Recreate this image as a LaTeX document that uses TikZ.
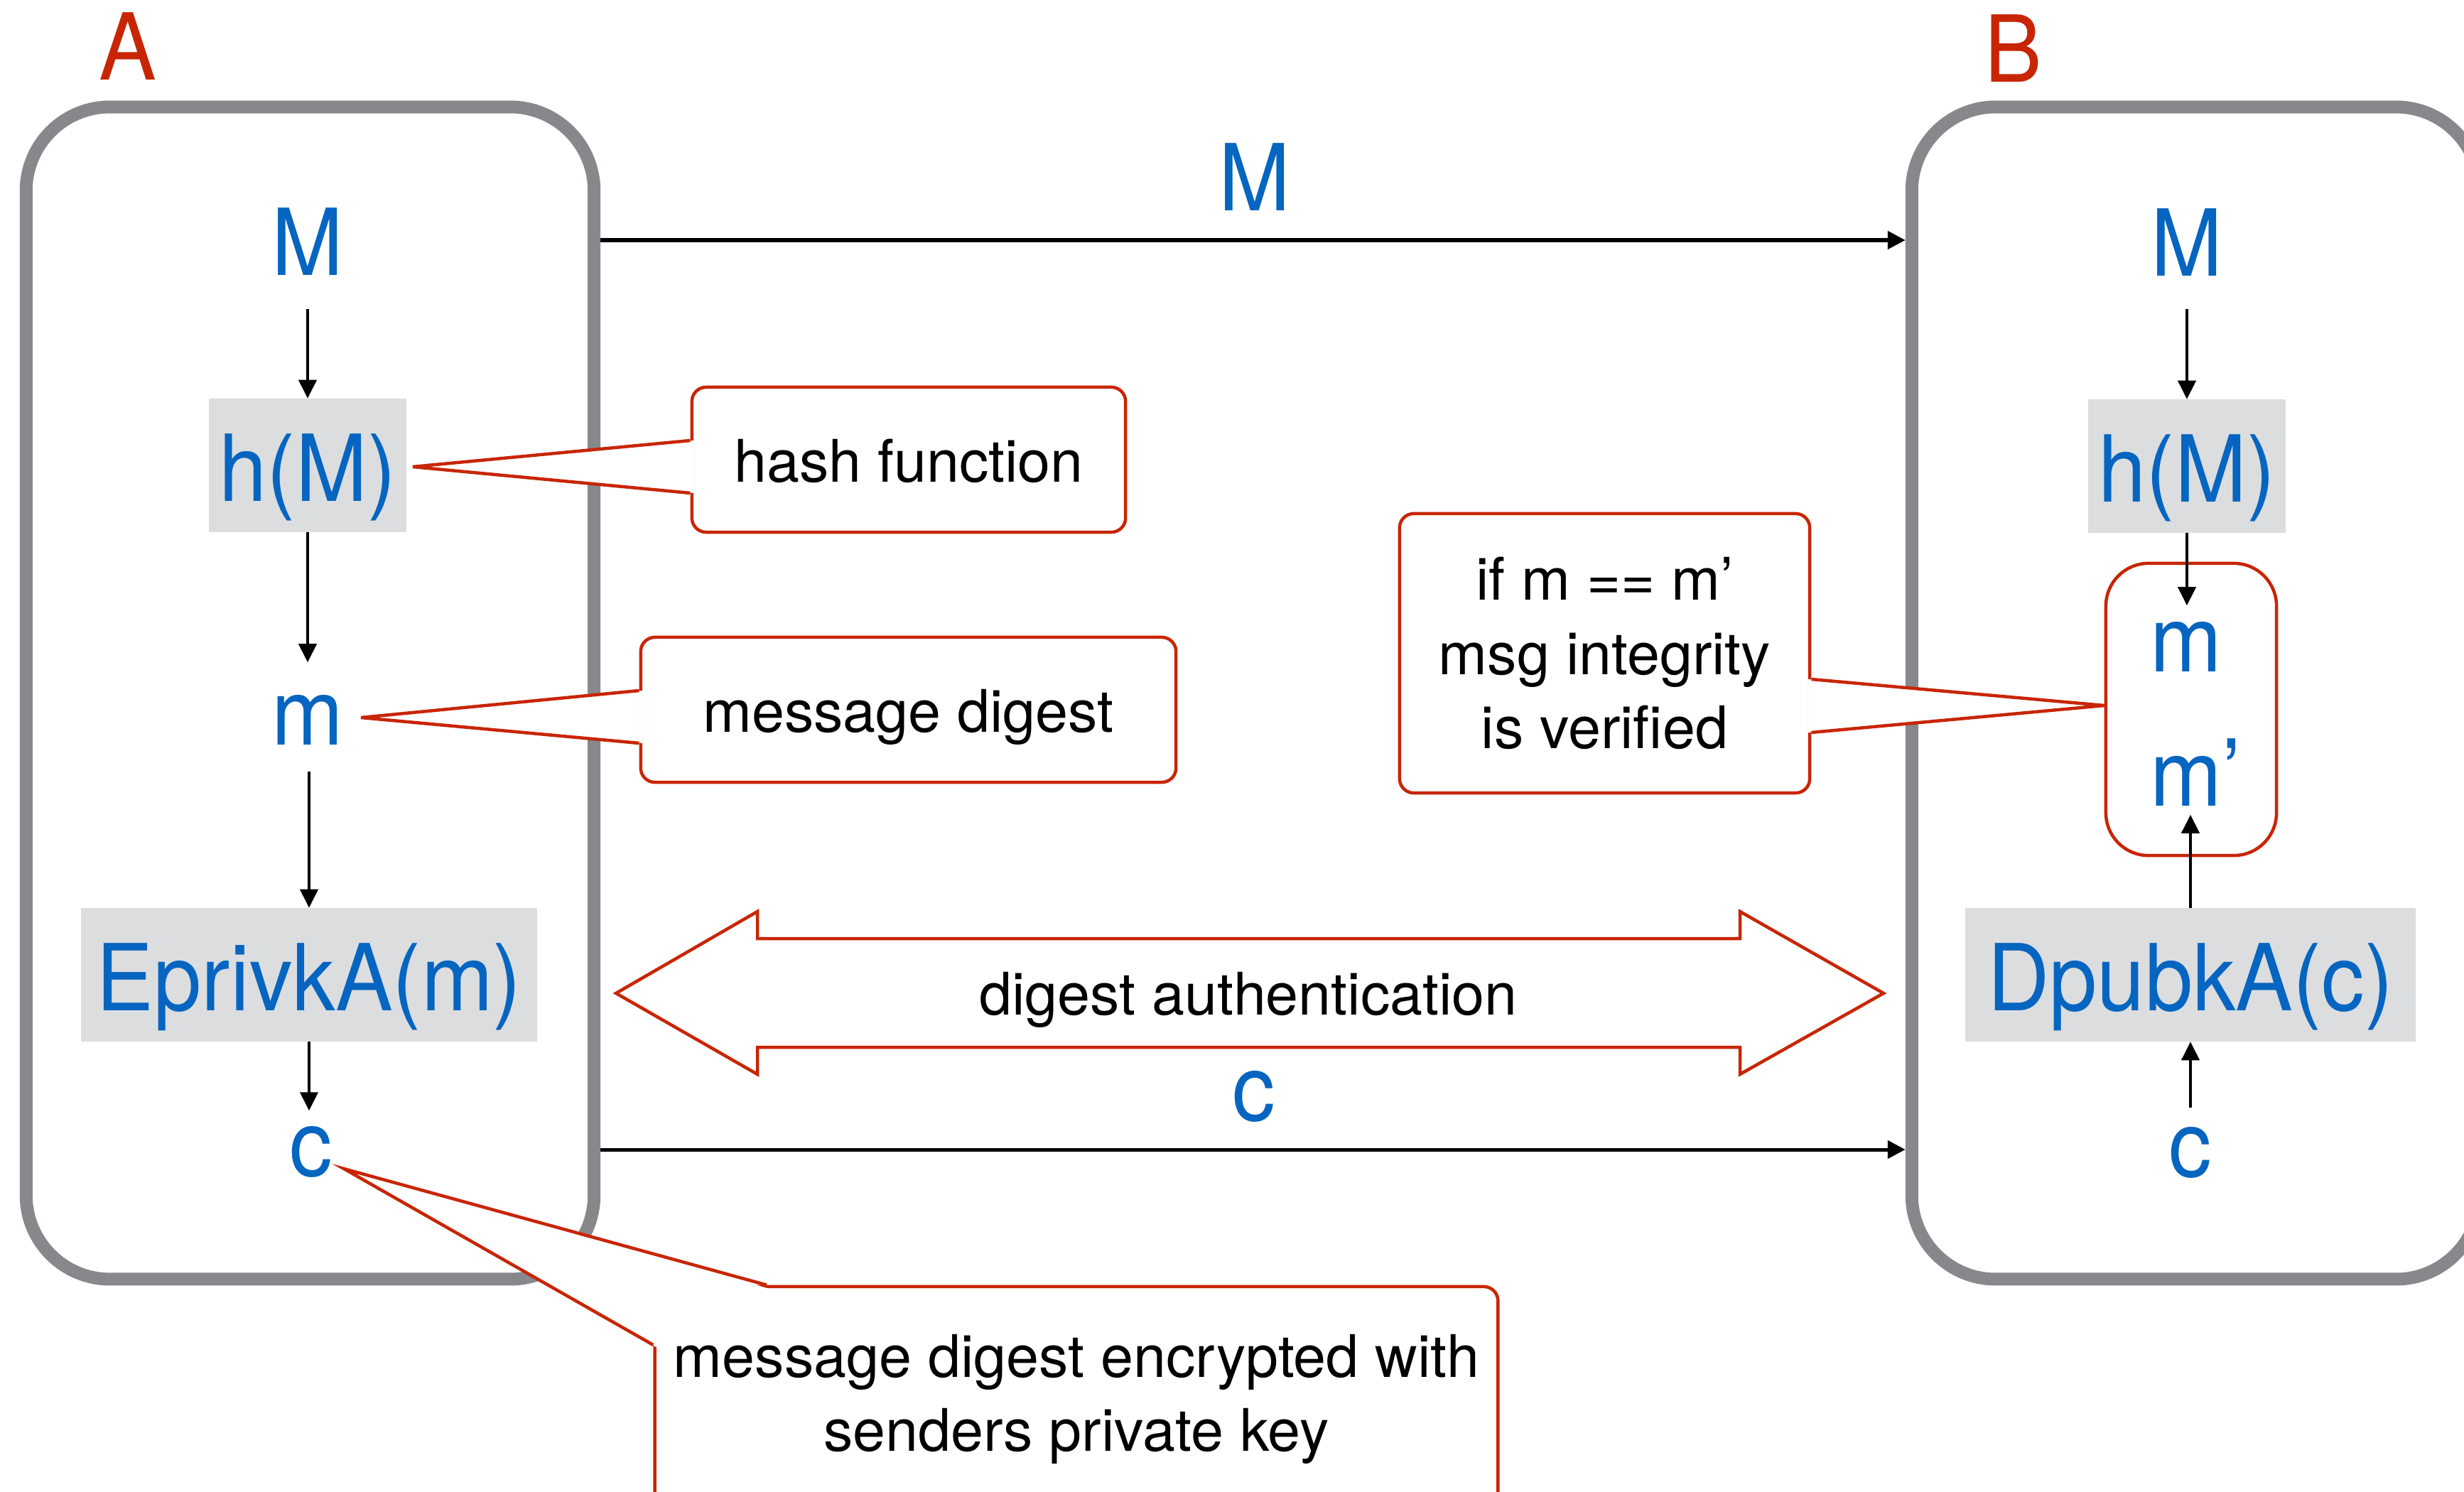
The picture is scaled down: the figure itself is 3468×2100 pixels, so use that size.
\documentclass[tikz,border=0pt]{standalone}
\usepackage{fontspec}
\setmainfont{TeX Gyre Heros}
\newfontfamily\bluefont[FakeStretch=0.93]{TeX Gyre Heros}
\usetikzlibrary{arrows.meta,calc}
\definecolor{blueT}{HTML}{0565C0}
\definecolor{redC}{HTML}{C82505}
\definecolor{grayB}{HTML}{86888C}
\definecolor{grayF}{HTML}{DCDDDF}
\begin{document}
\begin{tikzpicture}[x=0.01cm,y=-0.01cm,
  big/.style={font=\bluefont\fontsize{37pt}{44pt}\selectfont, text=blueT, inner sep=0pt},
  lbl/.style={font=\bluefont\fontsize{37pt}{44pt}\selectfont, text=redC, inner sep=0pt},
  small/.style={font=\fontsize{23.5pt}{29.7pt}\selectfont},
  sysbox/.style={draw=grayB, line width=0.18cm, rounded corners=1.18cm, minimum width=7.99cm, minimum height=16.49cm, inner sep=0pt},
  fnbox/.style={big, fill=grayF, minimum height=1.87cm, text height=1.15cm, text depth=0.15cm},
  callout/.style={small, draw=redC, fill=white, line width=0.045cm, rounded corners=0.2cm, align=center, inner sep=0pt},
  ptr/.style={draw=redC, line width=0.045cm},
  arr/.style={-{Triangle[length=0.26cm,width=0.25cm]}, line width=0.04cm},
  arrh/.style={-{Triangle[length=0.25cm,width=0.25cm]}, line width=0.05cm},
]
\clip (0,0) rectangle (3468,2100);
\fill[white] (0,0) rectangle (3468,2100);

% systems
\node[sysbox] (boxA) at (436.5,975.5) {};
\node[sysbox] (boxB) at (3090.5,975.5) {};
\node[lbl, anchor=base] (labA) at (180,113) {A};
\node[lbl, anchor=base] (labB) at (2834,116) {B};

% column A
\node[big, anchor=base] (MA) at (433,388) {M};
\node[fnbox, minimum width=2.78cm] (hA) at (433,655) {h(M)};
\node[big, anchor=base] (mA) at (433,1048) {m};
\node[fnbox, minimum width=6.42cm] (eA) at (435,1372) {EprivkA(m)};
\node[big, anchor=base] (cA) at (438,1655) {c};

% column B
\node[big, anchor=base] (MB) at (3078,389) {M};
\node[fnbox, minimum width=2.78cm] (hB) at (3078,656) {h(M)};
\node[draw=redC, line width=0.045cm, rounded corners=0.6cm, minimum width=2.40cm, minimum height=4.11cm, inner sep=0pt] (mmB) at (3084,998.5) {};
\node[big, anchor=base] (mB) at (3077,945) {m};
\node[big, anchor=base] (mpB) at (3077,1134) {m\rlap{’}};
\node[fnbox, minimum width=6.33cm] (dB) at (3083,1372) {DpubkA(c)};
\node[big, anchor=base] (cB) at (3083,1656) {c};

% transfers
\coordinate (yM) at (0,338);
\coordinate (yc) at (0,1618);
\draw[arrh] (boxA.east |- yM) -- (boxB.west |- yM);
\draw[arrh] (boxA.east |- yc) -- (boxB.west |- yc);
\node[big, anchor=base] (labM) at (1766,297) {M};
\node[big, anchor=base] (labc) at (1765,1577) {c};

% double arrow
\draw[redC, line width=0.045cm, fill=white] (867,1398) -- (1066,1283) -- (1066,1321) -- (2449,1321) -- (2449,1283) -- (2651,1398) -- (2449,1512) -- (2449,1474) -- (1066,1474) -- (1066,1512) -- cycle;
\node[small, anchor=base] (da) at (1757,1428) {digest authentication};

% column arrows
\draw[arr] ($(MA.base)+(0,47)$) -- (hA.north);
\draw[arr] (hA.south) -- ++(0,183);
\draw[arr] ($(eA.north)+(0,-192)$) -- (eA.north);
\draw[arr] (eA.south) -- ++(0,97);
\draw[arr] ($(MB.base)+(0,46)$) -- (hB.north);
\draw[arr] (hB.south) -- ++(0,102);
\draw[arr] (dB.north) -- ++(0,-131);
\draw[arr] ($(cB.base)+(0,-97)$) -- (dB.south);

% callouts
\node[callout, minimum width=6.10cm, minimum height=2.04cm, text height=0.62cm, text depth=0cm] (hashC) at (1279,647) {hash function};
\fill[white] ($(hashC.west)+(5,-27)$) -- ($(hA.east)+(8,2)$) -- ($(hashC.west)+(5,47)$) -- cycle;
\draw[ptr] ($(hashC.west)+(0,-27)$) -- ($(hA.east)+(8,2)$) -- ($(hashC.west)+(0,47)$);

\node[callout, minimum width=7.53cm, minimum height=2.04cm, text height=0.62cm, text depth=0cm] (mdC) at (1278.5,999) {message digest};
\fill[white] ($(mdC.west)+(5,-27)$) -- ($(mA.base)+(75,-38)$) -- ($(mdC.west)+(5,47)$) -- cycle;
\draw[ptr] ($(mdC.west)+(0,-27)$) -- ($(mA.base)+(75,-38)$) -- ($(mdC.west)+(0,47)$);

\node[callout, minimum width=5.77cm, minimum height=3.93cm] (ifC) at (2258.5,919.5) {if m == m’\\msg integrity\\is verified};
\fill[white] ($(ifC.east)+(-5,36.5)$) -- ($(mmB.west)+(0,-5.5)$) -- ($(ifC.east)+(-5,111.5)$) -- cycle;
\draw[ptr] ($(ifC.east)+(0,36.5)$) -- ($(mmB.west)+(0,-5.5)$) -- ($(ifC.east)+(0,111.5)$);

\node[callout, minimum width=11.86cm, minimum height=3.17cm] (encC) at (1515,1969.5) {message digest encrypted with\\senders private key};
\fill[white] ($(encC.west)+(5,-73)$) -- ($(cA.base)+(46,-10)$) -- ($(encC.north)+(-433,5)$) -- cycle;
\draw[ptr] ($(encC.west)+(0,-76.5)$) -- ($(cA.base)+(46,-10)$) -- ($(encC.north)+(-436,0)$);
\end{tikzpicture}
\end{document}
